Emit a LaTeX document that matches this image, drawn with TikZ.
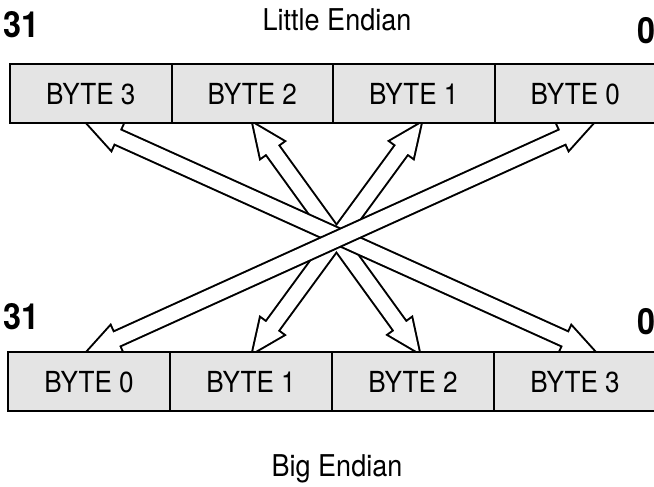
\documentclass[tikz,border=0pt]{standalone}
\usepackage{fontspec}
\setmainfont{TeX Gyre Heros}[FakeStretch=0.9]
\usetikzlibrary{positioning, calc, backgrounds}

\definecolor{boxgray}{RGB}{228,228,228}

% outline of a hollow arrow with two heads, from tip #1 to tip #2
\newcommand{\hollowpath}[2]{(#1)
    -- ($(#1)!16pt!(#2)!7pt!90:(#2)$)
    -- ($(#1)!16pt!(#2)!3.6pt!90:(#2)$)
    -- ($(#2)!16pt!(#1)!3.6pt!-90:(#1)$)
    -- ($(#2)!16pt!(#1)!7pt!-90:(#1)$)
    -- (#2)
    -- ($(#2)!16pt!(#1)!7pt!90:(#1)$)
    -- ($(#2)!16pt!(#1)!3.6pt!90:(#1)$)
    -- ($(#1)!16pt!(#2)!3.6pt!-90:(#2)$)
    -- ($(#1)!16pt!(#2)!7pt!-90:(#2)$)
    -- cycle}

\begin{document}
\begin{tikzpicture} [x=0.5pt, y=0.5pt,
            node distance = 0pt,
            line width = 1pt,
            topbox/.style = {draw, fill=boxgray,
                minimum width=80.75pt, minimum height=29.5pt,
                inner sep=0pt, outer sep=0pt,
                font=\fontsize{14.5}{17}\selectfont},
            botbox/.style = {topbox, minimum width=81pt},
            title/.style = {anchor=base, font=\fontsize{15}{18}\selectfont},
            bitno/.style = {anchor=base, font=\bfseries\fontsize{18}{21}\selectfont}]

        \useasboundingbox (0,0) rectangle (654,487);

        % Little Endian row
        \node (l3) [topbox, anchor=west] at (10,393) {BYTE 3};
        \node (l2) [topbox, right = of l3] {BYTE 2};
        \node (l1) [topbox, right = of l2] {BYTE 1};
        \node (l0) [topbox, right = of l1] {BYTE 0};

        % Big Endian row
        \node (b0) [botbox, anchor=west] at (8,105) {BYTE 0};
        \node (b1) [botbox, right = of b0] {BYTE 1};
        \node (b2) [botbox, right = of b1] {BYTE 2};
        \node (b3) [botbox, right = of b2] {BYTE 3};

        % Labels
        \node (little) [title] at (337,456) {Little Endian};
        \node (big) [title] at (337,10) {Big Endian};
        \node (lmsb) [bitno] at (22,449) {31};
        \node (llsb) [bitno] at (647,443) {0};
        \node (bmsb) [bitno] at (22,157) {31};
        \node (blsb) [bitno] at (647,152) {0};

        % Arrow tips
        \coordinate (t3) at ($(l3.south)+(-3,0)$);
        \coordinate (t2) at ($(l2.south)+(1,0)$);
        \coordinate (t1) at ($(l1.south)+(7,0)$);
        \coordinate (t0) at ($(l0.south)+(17,0)$);
        \coordinate (u0) at ($(b0.north)+(-2,0)$);
        \coordinate (u1) at ($(b1.north)+(2,0)$);
        \coordinate (u2) at ($(b2.north)+(6,0)$);
        \coordinate (u3) at ($(b3.north)+(20,0)$);

        % Arrows
        \begin{scope}[on background layer]
            \draw [line width=2pt] \hollowpath{t2}{u2};
            \draw [line width=2pt] \hollowpath{t1}{u1};
            \fill [white] \hollowpath{t2}{u2};
            \fill [white] \hollowpath{t1}{u1};

            \draw [line width=2pt] \hollowpath{t3}{u3};
            \fill [white] \hollowpath{t3}{u3};

            \draw [line width=2pt] \hollowpath{t0}{u0};
            \fill [white] \hollowpath{t0}{u0};
        \end{scope}
\end{tikzpicture}
\end{document}
